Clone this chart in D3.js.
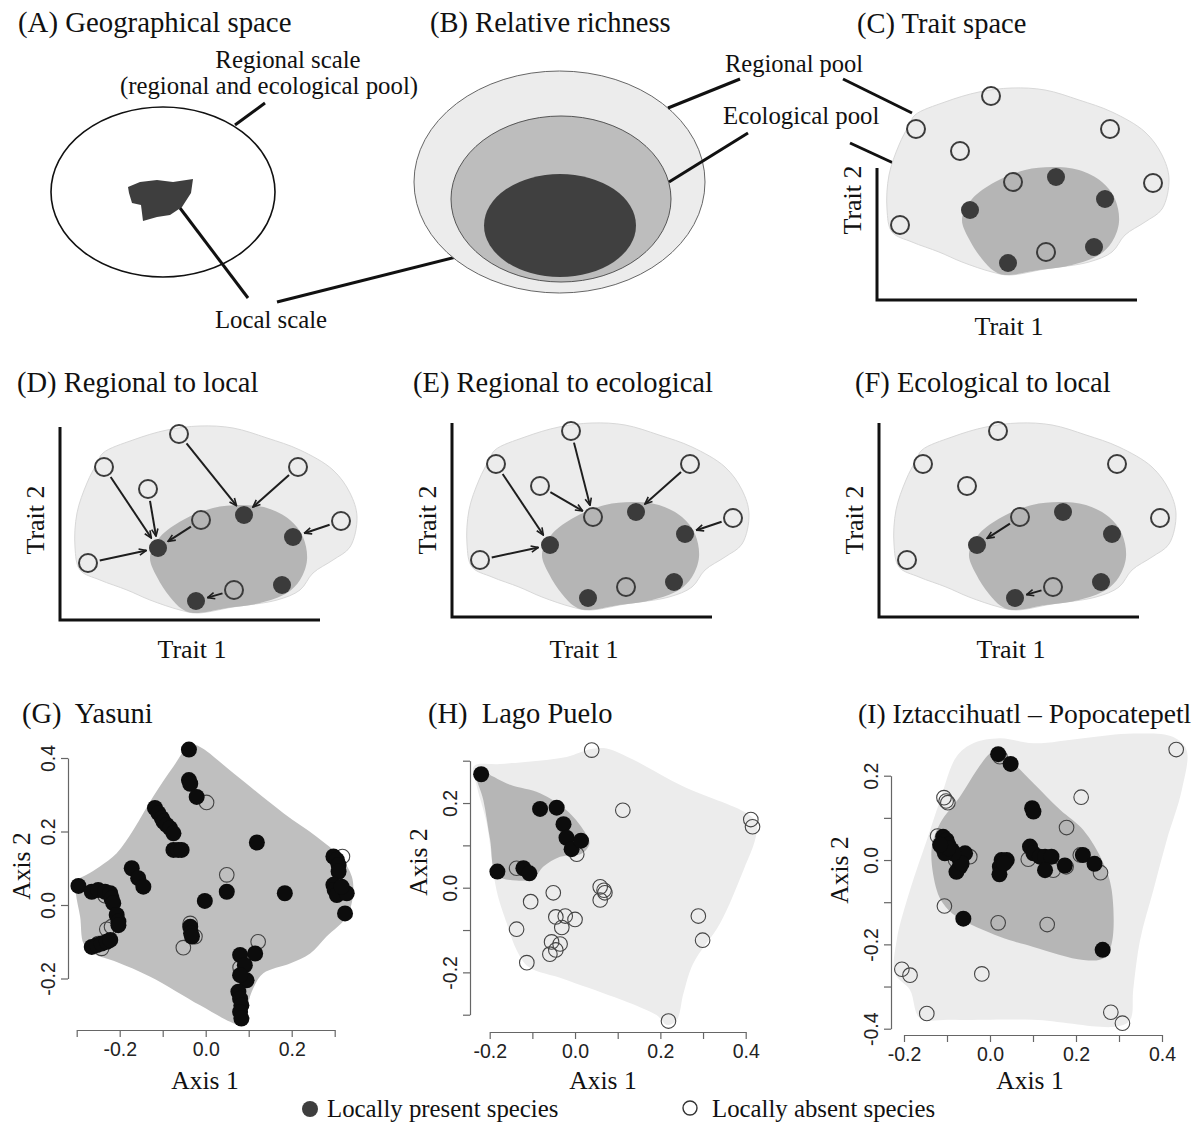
<!DOCTYPE html>
<html>
<head>
<meta charset="utf-8">
<script src="https://cdn.jsdelivr.net/npm/d3@7"></script>
<style>
  body { margin: 0; background: #fff; }
  svg text { font-family: "Liberation Serif", "Times New Roman", serif; fill: #111; white-space: pre; }
  svg .tick text { font-family: "Liberation Sans", Arial, sans-serif; fill: #222; }
</style>
</head>
<body>
<svg id="fig" width="1201" height="1123"></svg>
<script>
// ---------- data ----------
var titlesTop = ["(A) Geographical space", "(B) Relative richness", "(C) Trait space"];
var titlesMid = ["(D) Regional to local", "(E) Regional to ecological", "(F) Ecological to local"];
var titlesBottom = ["(G)  Yasuni", "(H)  Lago Puelo", "(I) Iztaccihuatl \u2013 Popocatepetl"];
var legendLabels = ["Locally present species", "Locally absent species"];

// schematic trait space (C-F), arbitrary trait units
var traitT1 = [119, 44, 88, 238, 281, 141, 184, 233, 98, 28, 174, 222, 136];
var traitT2 = [186, 153, 131, 153, 99, 100, 105, 83, 72, 57, 30, 35, 19];
var traitPresent = [0, 0, 0, 0, 0, 0, 1, 1, 1, 0, 0, 1, 1];
var regionalHull = [[43,167],[73,180],[107,190],[140,194],[173,192],[207,182],[240,170],[273,150],[290,127],[297,103],
  [290,73],[273,60],[253,47],[240,30],[217,20],[173,13],[137,7],[120,10],[90,20],[67,30],[40,40],[20,50],[15,73],[17,107],[27,137],[37,157]];
var ecologicalHull = [[90,63],[100,83],[123,100],[153,112],[180,115],[207,112],[230,100],[243,83],[247,60],[240,40],
  [227,27],[200,17],[167,12],[133,7],[122,11],[110,23],[97,43]];
var arrowsD = [[1,8],[2,8],[0,6],[3,6],[5,8],[4,7],[9,8],[10,12]];
var arrowsE = [[1,8],[2,5],[0,5],[3,6],[4,7],[9,8]];
var arrowsF = [[5,8],[10,12]];

// (G) Yasuni
var yasuniPresent = [[-0.039,0.423],[-0.039,0.34],[-0.036,0.33],[-0.021,0.294],
  [-0.118,0.264],[-0.110,0.25],[-0.102,0.236],[-0.098,0.227],[-0.091,0.218],[-0.083,0.209],[-0.075,0.195],
  [-0.075,0.15],[-0.064,0.15],[-0.056,0.15],[0.119,0.17],[-0.172,0.1],[-0.157,0.073],[-0.145,0.05],
  [0.049,0.036],[-0.002,0.011],[0.184,0.032],[-0.296,0.052],
  [-0.265,0.036],[-0.25,0.041],[-0.234,0.036],[-0.222,0.032],[-0.219,0.018],[-0.215,0.005],
  [-0.207,-0.027],[-0.203,-0.045],[-0.203,-0.055],
  [-0.265,-0.114],[-0.253,-0.109],[-0.242,-0.105],[-0.23,-0.1],[-0.222,-0.095],
  [-0.036,-0.059],[-0.034,-0.077],[-0.032,-0.086],
  [0.08,-0.136],[0.091,-0.164],[0.095,-0.205],[0.08,-0.191],[0.076,-0.236],[0.08,-0.255],[0.083,-0.273],[0.08,-0.291],[0.083,-0.309],
  [0.115,-0.132],
  [0.297,0.132],[0.305,0.123],[0.309,0.109],[0.309,0.091],[0.297,0.055],[0.3,0.041],[0.305,0.027],[0.328,0.032],[0.324,-0.023],[0.316,0.05]];
var yasuniAbsent = [[0.002,0.279],[0.049,0.082],[-0.234,0.025],[-0.219,0.02],[-0.23,-0.066],[-0.219,-0.059],[-0.25,-0.105],
  [-0.242,-0.118],[-0.036,-0.05],[-0.025,-0.086],[-0.052,-0.116],[0.122,-0.1],[0.08,-0.17],[0.318,0.132],[0.305,0.059]];
var yasuniHull = [[-0.036,0.436],[-0.013,0.43],[0.064,0.359],[0.181,0.25],[0.258,0.186],[0.312,0.132],[0.34,0.077],[0.342,0.023],
  [0.328,-0.032],[0.281,-0.086],[0.243,-0.132],[0.196,-0.159],[0.134,-0.186],[0.107,-0.236],[0.095,-0.286],[0.081,-0.327],
  [0.057,-0.318],[-0.013,-0.273],[-0.129,-0.195],[-0.207,-0.155],[-0.261,-0.132],[-0.284,-0.105],[-0.292,-0.032],[-0.302,0.032],
  [-0.302,0.064],[-0.277,0.082],[-0.246,0.105],[-0.207,0.141],[-0.168,0.205],[-0.122,0.295],[-0.075,0.377]];

// (H) Lago Puelo
var puelloPresent = [[-0.22,0.268],[-0.082,0.186],[-0.043,0.189],[-0.027,0.15],[-0.02,0.118],[-0.008,0.091],[0.014,0.111],
  [-0.182,0.038],[-0.121,0.046],[-0.107,0.034]];
var puelloAbsent = [[0.039,0.325],[0.112,0.183],[0.412,0.161],[0.416,0.144],[0.004,0.079],[-0.137,0.046],[0.059,0.002],[0.068,-0.006],
  [0.07,-0.012],[0.059,-0.029],[-0.051,-0.012],[-0.104,-0.033],[-0.045,-0.069],[-0.023,-0.067],[0.0,-0.075],[-0.031,-0.094],
  [-0.137,-0.098],[-0.055,-0.128],[-0.035,-0.133],[-0.045,-0.147],[-0.059,-0.157],[-0.113,-0.177],[0.289,-0.067],[0.299,-0.124],[0.219,-0.315]];
var puelloRegionalHull = [[-0.237,0.287],[-0.176,0.292],[-0.02,0.309],[0.035,0.327],[0.074,0.329],[0.137,0.302],[0.254,0.239],[0.402,0.176],
  [0.426,0.152],[0.422,0.113],[0.395,0.042],[0.34,-0.084],[0.277,-0.179],[0.254,-0.25],[0.238,-0.313],[0.215,-0.324],[0.191,-0.301],
  [-0.02,-0.218],[-0.109,-0.187],[-0.137,-0.147],[-0.16,-0.084],[-0.184,-0.006],[-0.207,0.152],[-0.23,0.239]];
var puelloEcologicalHull = [[-0.234,0.278],[-0.207,0.27],[-0.152,0.243],[-0.082,0.223],[-0.02,0.183],[0.02,0.136],[0.034,0.105],[0.016,0.081],
  [-0.035,0.073],[-0.074,0.05],[-0.098,0.022],[-0.137,0.017],[-0.184,0.03],[-0.199,0.113],[-0.215,0.207]];

// (I) Iztaccihuatl - Popocatepetl
var iztaPresent = [[0.019,0.251],[0.048,0.228],[0.098,0.123],[0.101,0.115],
  [-0.109,0.055],[-0.101,0.047],[-0.112,0.032],[-0.097,0.036],[-0.089,0.024],[-0.078,0.012],[-0.07,0],[-0.058,0.016],[-0.07,-0.016],
  [-0.078,-0.028],[-0.066,-0.008],[-0.085,0.016],[-0.105,0.016],[-0.097,0.028],[-0.116,0.036],
  [0.027,0],[0.039,0],[0.023,-0.016],[0.022,-0.034],[0.033,-0.008],
  [0.093,0.032],[0.101,0.016],[0.116,0.008],[0.128,0.008],[0.143,0.008],[0.128,-0.024],[0.174,-0.013],[0.216,0.012],[0.243,-0.009],
  [-0.062,-0.139],[0.262,-0.213]];
var iztaAbsent = [[0.433,0.262],[-0.107,0.148],[-0.102,0.14],[-0.098,0.136],[0.212,0.149],[0.178,0.077],[-0.122,0.057],[0.089,0.002],
  [-0.047,0.008],[0.147,-0.024],[0.257,-0.03],[-0.106,-0.109],[0.019,-0.149],[0.133,-0.153],[-0.205,-0.259],[-0.186,-0.273],
  [-0.019,-0.27],[-0.147,-0.364],[0.281,-0.361],[0.308,-0.387],[0.023,0.245],[-0.08,0.0],[0.21,0.012],[0.177,-0.016]];
var iztaRegionalHull = [[-0.078,0.245],[-0.039,0.277],[0.023,0.289],[0.101,0.277],[0.217,0.289],[0.333,0.3],[0.426,0.292],[0.457,0.261],
  [0.446,0.166],[0.411,0.047],[0.38,-0.071],[0.349,-0.19],[0.333,-0.308],[0.326,-0.379],[0.295,-0.395],[0.101,-0.379],[-0.093,-0.379],
  [-0.163,-0.375],[-0.186,-0.308],[-0.221,-0.269],[-0.217,-0.19],[-0.186,-0.071],[-0.147,0.047],[-0.116,0.142]];
var iztaEcologicalHull = [[0.016,0.261],[0.047,0.237],[0.101,0.182],[0.163,0.119],[0.217,0.071],[0.264,-0.008],[0.283,-0.071],[0.283,-0.198],
  [0.264,-0.233],[0.217,-0.237],[0.101,-0.206],[0.023,-0.182],[-0.078,-0.134],[-0.109,-0.103],[-0.124,-0.071],[-0.136,0.024],
  [-0.116,0.087],[-0.07,0.15],[-0.031,0.213],[0,0.253]];

// ticks
var gXTicks = [-0.3,-0.2,-0.1,0,0.1,0.2,0.3];
var gXLabels = ["","-0.2","","0.0","","0.2",""];
var gYTicks = [-0.2,0,0.2,0.4];
var gYLabels = ["-0.2","0.0","0.2","0.4"];
var hXTicks = [-0.2,-0.1,0,0.1,0.2,0.3,0.4];
var hXLabels = ["-0.2","","0.0","","0.2","","0.4"];
var hYTicks = [-0.3,-0.2,-0.1,0,0.1,0.2,0.3];
var hYLabels = ["","-0.2","","0.0","","0.2",""];
var iXTicks = [-0.2,-0.1,0,0.1,0.2,0.3,0.4];
var iXLabels = ["-0.2","","0.0","","0.2","","0.4"];
var iYTicks = [-0.4,-0.3,-0.2,-0.1,0,0.1,0.2];
var iYLabels = ["-0.4","","-0.2","","0.0","","0.2"];

// ---------- drawing ----------
var svg = d3.select("#fig");
svg.append("rect").attr("width", 1201).attr("height", 1123).attr("fill", "#fff");

var defs = svg.append("defs");
defs.append("marker")
    .attr("id", "arrowHead")
    .attr("viewBox", "0 0 10 10")
    .attr("refX", 9).attr("refY", 5)
    .attr("markerWidth", 9).attr("markerHeight", 9)
    .attr("markerUnits", "userSpaceOnUse")
    .attr("orient", "auto")
    .append("path")
    .attr("d", "M1,1.5 L9,5 L1,8.5")
    .attr("fill", "none")
    .attr("stroke", "#1e1e1e")
    .attr("stroke-width", 1.8);

function addText(g, x, y, str, size, anchor) {
    return g.append("text")
        .attr("x", x).attr("y", y)
        .attr("font-size", size)
        .attr("text-anchor", anchor || "start")
        .text(str);
}

function addRotated(g, x, y, str, size) {
    return g.append("text")
        .attr("transform", "translate(" + x + "," + y + ") rotate(-90)")
        .attr("font-size", size)
        .attr("text-anchor", "middle")
        .text(str);
}

function leader(g, x1, y1, x2, y2) {
    g.append("line")
        .attr("x1", x1).attr("y1", y1).attr("x2", x2).attr("y2", y2)
        .attr("stroke", "#111").attr("stroke-width", 3);
}

// (A) geographical space
function drawPanelA() {
    var g = svg.append("g");
    addText(g, 18, 32, titlesTop[0], 28.8);
    g.append("ellipse").attr("cx", 163).attr("cy", 192).attr("rx", 112).attr("ry", 85)
        .attr("fill", "#fff").attr("stroke", "#111").attr("stroke-width", 1.6);
    var localPatch = [[128,187],[140,182],[157,180],[173,182],[193,179],[191,193],[182,207],[170,215],
        [157,217],[143,221],[142,213],[141,205],[132,203],[129,193]];
    g.append("path").attr("d", d3.line().curve(d3.curveLinearClosed)(localPatch)).attr("fill", "#3e3e3e");
    leader(g, 235, 125, 265, 103);
    leader(g, 180, 208, 248, 298);
    leader(g, 277, 302, 492, 248);
    addText(g, 288, 68, "Regional scale", 24.8, "middle");
    addText(g, 269, 94, "(regional and ecological pool)", 24.8, "middle");
    addText(g, 271, 328, "Local scale", 24.8, "middle");
}

// (B) relative richness
function drawPanelB() {
    var g = svg.append("g");
    addText(g, 430, 32, titlesTop[1], 28.5);
    g.append("ellipse").attr("cx", 559.5).attr("cy", 182).attr("rx", 145.5).attr("ry", 111)
        .attr("fill", "#ececec").attr("stroke", "#666").attr("stroke-width", 1);
    g.append("ellipse").attr("cx", 561).attr("cy", 199).attr("rx", 110).attr("ry", 83)
        .attr("fill", "#bdbdbd").attr("stroke", "#555").attr("stroke-width", 1);
    g.append("ellipse").attr("cx", 560).attr("cy", 225.5).attr("rx", 76).attr("ry", 51.5)
        .attr("fill", "#404040");
    leader(g, 668, 108, 740, 79);
    leader(g, 669, 182, 748, 133);
    addText(g, 725, 72, "Regional pool", 24.5);
    addText(g, 723, 124, "Ecological pool", 24.8);
}

/**
 * Schematic trait-space panel: two pool hulls, species circles, optional arrows.
 */
function drawTraitPanel(opt) {
    var g = svg.append("g");
    var x = d3.scaleLinear().domain([0, 260]).range([opt.ox + opt.sx, opt.ox + opt.sx + 260]);
    var y = d3.scaleLinear().domain([0, 200]).range([opt.oy + opt.sy, opt.oy + opt.sy - 200]);
    var hull = d3.line().x(function (d) { return x(d[0]); }).y(function (d) { return y(d[1]); })
        .curve(d3.curveCatmullRomClosed.alpha(0.5));
    g.append("path").attr("d", hull(regionalHull)).attr("fill", "#ececec").attr("stroke", "#d8d8d8");
    g.append("path").attr("d", hull(ecologicalHull)).attr("fill", "#b5b5b5");

    var r = 9;
    var idx = d3.range(traitT1.length);
    (opt.arrows || []).forEach(function (a) {
        var x1 = x(traitT1[a[0]]), y1 = y(traitT2[a[0]]);
        var x2 = x(traitT1[a[1]]), y2 = y(traitT2[a[1]]);
        var len = Math.hypot(x2 - x1, y2 - y1), ux = (x2 - x1) / len, uy = (y2 - y1) / len;
        g.append("line")
            .attr("x1", x1 + ux * (r + 3)).attr("y1", y1 + uy * (r + 3))
            .attr("x2", x2 - ux * (r + 3)).attr("y2", y2 - uy * (r + 3))
            .attr("stroke", "#1e1e1e").attr("stroke-width", 2)
            .attr("marker-end", "url(#arrowHead)");
    });
    g.selectAll(".sp").data(idx).enter().append("circle")
        .attr("cx", function (i) { return x(traitT1[i]); })
        .attr("cy", function (i) { return y(traitT2[i]); })
        .attr("r", r)
        .attr("fill", function (i) { return traitPresent[i] ? "#3b3b3b" : "none"; })
        .attr("stroke", function (i) { return traitPresent[i] ? "none" : "#3b3b3b"; })
        .attr("stroke-width", 2);

    g.append("path")
        .attr("d", "M" + opt.ox + "," + opt.yTop + "V" + opt.oy + "H" + (opt.ox + 260))
        .attr("fill", "none").attr("stroke", "#111").attr("stroke-width", 3);
    addText(g, opt.ox + 132, opt.oy + opt.t1dy, "Trait 1", 26, "middle");
    addRotated(g, opt.ox - 16, opt.t2y, "Trait 2", 26);
    if (opt.title) addText(g, opt.tx, opt.ty, opt.title, 28.5);
    return g;
}

/**
 * R-style ordination panel with hulls, species points and axes.
 */
function drawOrdination(opt) {
    var g = svg.append("g");
    var x = opt.x, y = opt.y;
    var hull = d3.line().x(function (d) { return x(d[0]); }).y(function (d) { return y(d[1]); })
        .curve(d3.curveCatmullRomClosed.alpha(0.5));
    if (opt.regional) g.append("path").attr("d", hull(opt.regional)).attr("fill", "#ececec");
    g.append("path").attr("d", hull(opt.ecological)).attr("fill", opt.regional ? "#b6b6b6" : "#bfbfbf");

    g.selectAll(".ab").data(opt.absent).enter().append("circle")
        .attr("cx", function (d) { return x(d[0]); }).attr("cy", function (d) { return y(d[1]); })
        .attr("r", 7.3).attr("fill", "none").attr("stroke", "#444").attr("stroke-width", 1.1);
    g.selectAll(".pr").data(opt.present).enter().append("circle")
        .attr("cx", function (d) { return x(d[0]); }).attr("cy", function (d) { return y(d[1]); })
        .attr("r", 8).attr("fill", "#0c0c0c");

    var xs = x.copy().domain(d3.extent(opt.xTicks)).range(d3.extent(opt.xTicks).map(x));
    var ys = y.copy().domain(d3.extent(opt.yTicks)).range(d3.extent(opt.yTicks).map(y));
    var xa = g.append("g").attr("transform", "translate(0," + opt.xAxisY + ")")
        .call(d3.axisBottom(xs).tickValues(opt.xTicks).tickSize(7).tickSizeOuter(0)
            .tickFormat(function (d, i) { return opt.xLabels[i]; }));
    xa.selectAll("text").attr("font-size", 19.5).attr("y", 26).attr("dy", 0);
    var ya = g.append("g").attr("transform", "translate(" + opt.yAxisX + ",0)")
        .call(d3.axisLeft(ys).tickValues(opt.yTicks).tickSize(7).tickSizeOuter(0)
            .tickFormat(function (d, i) { return opt.yLabels[i]; }));
    ya.selectAll("text").attr("font-size", 19.5).attr("x", 0).attr("dy", 0)
        .attr("text-anchor", "middle").attr("transform", "translate(-13,0) rotate(-90)");
    [xa, ya].forEach(function (a) {
        a.select(".domain").attr("stroke", "#666").attr("stroke-width", 1.2);
        a.selectAll(".tick line").attr("stroke", "#666").attr("stroke-width", 1.2);
    });

    addText(g, opt.tx, 723, opt.title, opt.titleSize || 28.5);
    addText(g, opt.a1x, 1089, "Axis 1", 25.5, "middle");
    addRotated(g, opt.a2x, opt.a2y, "Axis 2", 25.5);
}

drawPanelA();
drawPanelB();

// leaders from B labels into C
var leadC = svg.append("g");
leader(leadC, 843, 79, 912, 113);
leader(leadC, 850, 143, 967, 197);

drawTraitPanel({ ox: 877, oy: 300, sx: -5, sy: -18, yTop: 168, t1dy: 35, t2y: 200,
    title: titlesTop[2], tx: 857, ty: 33 });
drawTraitPanel({ ox: 60, oy: 620, sx: 0, sy: 0, yTop: 427, t1dy: 38, t2y: 520,
    arrows: arrowsD, title: titlesMid[0], tx: 17, ty: 392 });
drawTraitPanel({ ox: 452, oy: 617, sx: 0, sy: 0, yTop: 423, t1dy: 41, t2y: 520,
    arrows: arrowsE, title: titlesMid[1], tx: 413, ty: 392 });
drawTraitPanel({ ox: 879, oy: 617, sx: 0, sy: 0, yTop: 423, t1dy: 41, t2y: 520,
    arrows: arrowsF, title: titlesMid[2], tx: 855, ty: 392 });

drawOrdination({
    x: d3.scaleLinear().domain([-0.3, 0.3]).range([76.7, 334.7]),
    y: d3.scaleLinear().domain([-0.2, 0.4]).range([978.5, 758]),
    ecological: yasuniHull, present: yasuniPresent, absent: yasuniAbsent,
    xTicks: gXTicks, xLabels: gXLabels, yTicks: gYTicks, yLabels: gYLabels,
    xAxisY: 1030, yAxisX: 68, title: titlesBottom[0], tx: 22, a1x: 205, a2x: 30, a2y: 866
});
drawOrdination({
    x: d3.scaleLinear().domain([-0.2, 0.4]).range([489.7, 745.7]),
    y: d3.scaleLinear().domain([-0.3, 0.3]).range([1014.7, 760.7]),
    regional: puelloRegionalHull, ecological: puelloEcologicalHull, present: puelloPresent, absent: puelloAbsent,
    xTicks: hXTicks, xLabels: hXLabels, yTicks: hYTicks, yLabels: hYLabels,
    xAxisY: 1032, yAxisX: 470, title: titlesBottom[1], tx: 428, a1x: 603, a2x: 427, a2y: 862
});
drawOrdination({
    x: d3.scaleLinear().domain([-0.2, 0.4]).range([904, 1162]),
    y: d3.scaleLinear().domain([-0.4, 0.2]).range([1028.7, 775.7]),
    regional: iztaRegionalHull, ecological: iztaEcologicalHull, present: iztaPresent, absent: iztaAbsent,
    xTicks: iXTicks, xLabels: iXLabels, yTicks: iYTicks, yLabels: iYLabels,
    xAxisY: 1035, yAxisX: 891, title: titlesBottom[2], titleSize: 27.6, tx: 858, a1x: 1030, a2x: 848, a2y: 870
});

// legend
var leg = svg.append("g");
leg.append("circle").attr("cx", 310).attr("cy", 1109).attr("r", 8).attr("fill", "#3e3e3e");
addText(leg, 327, 1117, legendLabels[0], 24.8);
leg.append("circle").attr("cx", 690).attr("cy", 1108).attr("r", 7).attr("fill", "none")
    .attr("stroke", "#333").attr("stroke-width", 1.4);
addText(leg, 712, 1117, legendLabels[1], 24.8);
</script>
</body>
</html>
